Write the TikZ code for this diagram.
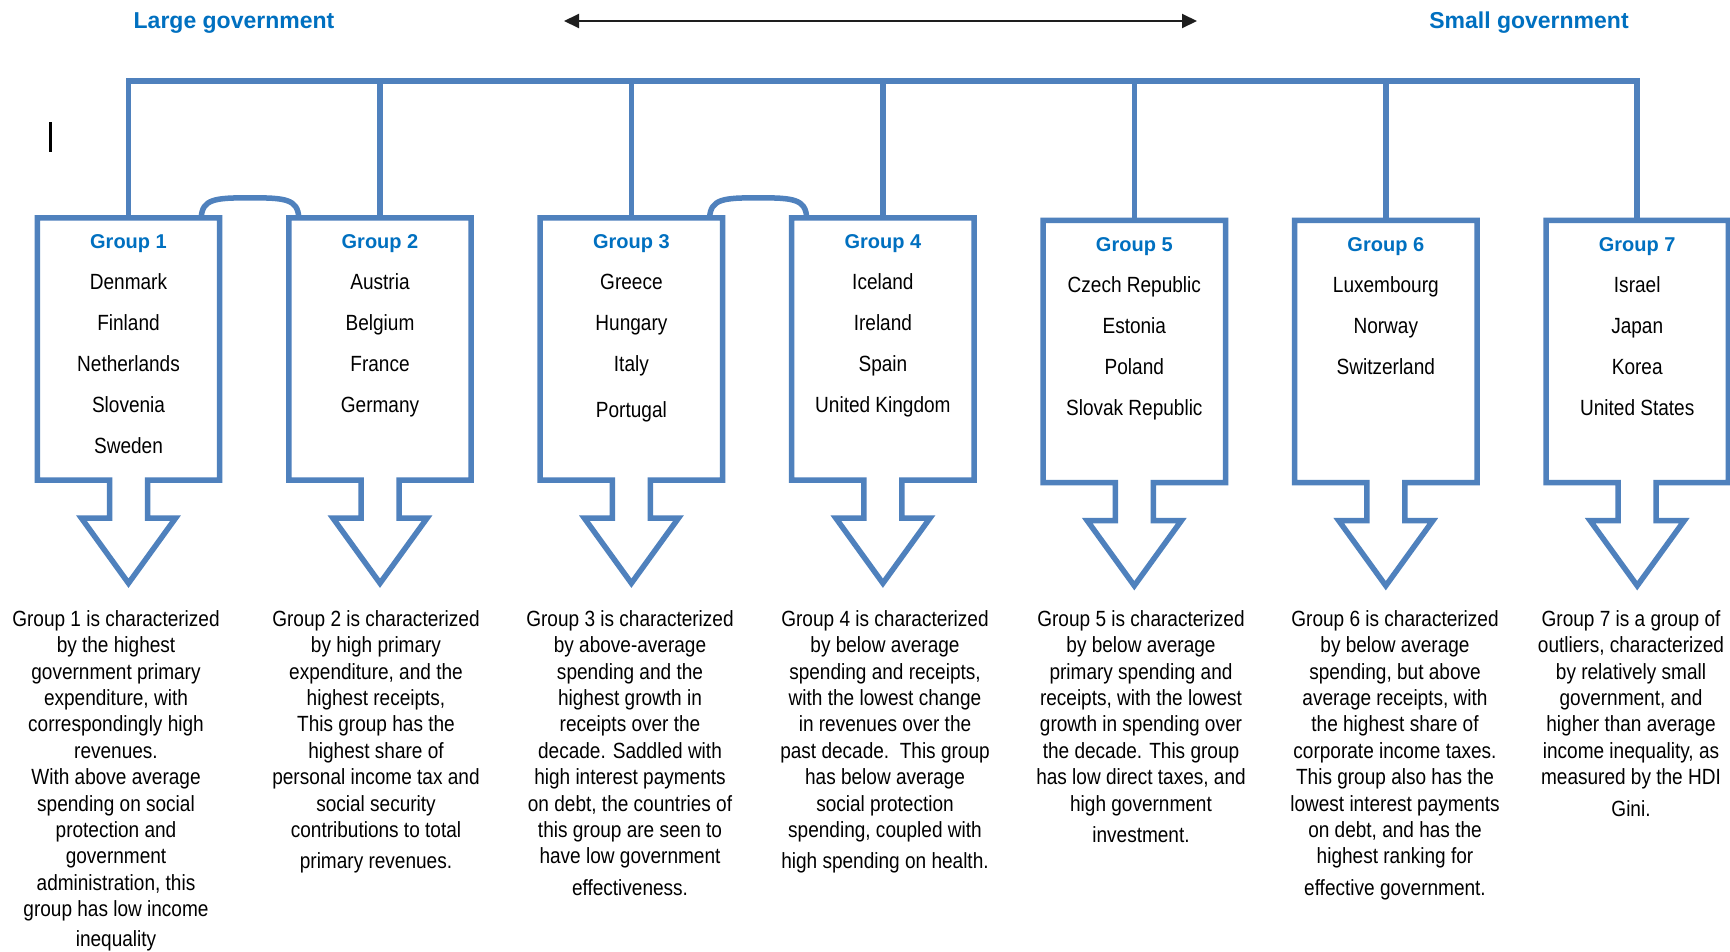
\documentclass[tikz,border=0pt]{standalone}
\usepackage{fontspec}
\setmainfont{Liberation Sans}
\newfontfamily\narrowsans[FakeStretch=0.865]{Liberation Sans}
\usetikzlibrary{calc,arrows.meta}

\definecolor{frameblue}{HTML}{4F81BD}
\definecolor{headblue}{HTML}{0070C0}
\definecolor{axisgray}{HTML}{1E1E1E}

\tikzset{
  grpline/.style={draw=frameblue, line width=5.5pt, line join=miter},
  grpbox/.style={minimum width=182pt, minimum height=262pt, inner sep=0pt, draw=none},
  grptitle/.style={anchor=base, inner sep=0pt, text=headblue,
    font=\bfseries\fontsize{20}{24}\selectfont},
  grplist/.style={anchor=north, inner sep=0pt, align=center,
    font=\narrowsans\fontsize{22}{41}\selectfont},
  grpnote/.style={anchor=north, inner sep=0pt, align=center,
    font=\narrowsans\fontsize{22}{26.4}\selectfont},
  govlabel/.style={inner sep=0pt, text=headblue,
    font=\bfseries\fontsize{23}{27}\selectfont},
  axisline/.style={draw=axisgray, line width=2pt,
    {Triangle[length=15pt,width=14pt]}-{Triangle[length=15pt,width=14pt]}},
}

% box outline with its downward block arrow
\newcommand\grpoutline[1]{%
  \draw[grpline] (#1.north west) -- (#1.north east) -- (#1.south east)
    -- ($(#1.south)+(19,0)$) -- ($(#1.south)+(19,38)$) -- ($(#1.south)+(47,38)$)
    -- ($(#1.south)+(0,103)$) -- ($(#1.south)+(-47,38)$) -- ($(#1.south)+(-19,38)$)
    -- ($(#1.south)+(-19,0)$) -- (#1.south west) -- cycle;}

% rounded hump joining the tops of two neighbouring boxes
% #1,#2: boxes; #3: start offset from #1's right corner; #4: end offset from #2's left corner
\newcommand\grpbridge[4]{%
  \path ($(#1.north east)+(#3,0)$) coordinate (#1-bs)
        ($(#2.north west)+(#4,0)$) coordinate (#1-be);
  \draw[grpline] (#1-bs) .. controls ($(#1-bs)+(1,-19)$) and ($(#1-bs)+(14,-20)$)
    .. ($(#1-bs)!0.5!(#1-be)+(0,-20)$)
    .. controls ($(#1-be)+(-14,-20)$) and ($(#1-be)+(-1,-19)$) .. (#1-be);}

\begin{document}
\begin{tikzpicture}[x=1pt,y=-1pt]
\fill[white] (0,0) rectangle (1730,951);
\useasboundingbox (0,0) rectangle (1730,951);

% heading axis
\node[govlabel] (large) at (234,23) {Large government};
\node[govlabel] (small) at (1529,23) {Small government};
\coordinate (axL) at (564,21);
\coordinate (axR) at (1197,21);
\draw[axisline] (axL) -- (axR);

% stray caret mark
\coordinate (caretT) at (50,122);
\coordinate (caretB) at (50,152);
\draw[line width=3pt] (caretT) -- (caretB);

% group boxes
\node[grpbox] (b1) at (128.5,349) {};
\node[grpbox] (b2) at (380,349) {};
\node[grpbox] (b3) at (631.4,349) {};
\node[grpbox] (b4) at (882.9,349) {};
\node[grpbox] (b5) at (1134.3,351.5) {};
\node[grpbox] (b6) at (1385.8,351.5) {};
\node[grpbox] (b7) at (1637.2,351.5) {};

\foreach \k in {1,...,7} {\grpoutline{b\k}}

% top bar with drops into each box
\coordinate (barlevel) at (0,81);
\draw[grpline] (b1.north) |- (b7.north |- barlevel) -- (b7.north);
\foreach \k in {2,...,6} {\draw[grpline] (b\k.north) -- (b\k.north |- barlevel);}

\grpbridge{b1}{b2}{-18.5}{10}
\grpbridge{b3}{b4}{-13}{15}

% titles
\foreach \k in {1,...,7} {\node[grptitle] (t\k) at ($(b\k.north)+(0,31)$) {Group \k};}

% member countries
\tikzset{grplist/.append style={yshift=-2.2pt}}
\node[grplist] (c1) at ($(b1.north)+(0,52.5)$) {\rule{0pt}{17pt}Denmark\\Finland\\Netherlands\\Slovenia\\Sweden};
\node[grplist] (c2) at ($(b2.north)+(0,52.5)$) {\rule{0pt}{17pt}Austria\\Belgium\\France\\Germany};
\node[grplist] (c3) at ($(b3.north)+(0,52.5)$) {\rule{0pt}{17pt}Greece\\Hungary\\Italy\\[5pt]Portugal};
\node[grplist] (c4) at ($(b4.north)+(0,52.5)$) {\rule{0pt}{17pt}Iceland\\Ireland\\Spain\\United Kingdom};
\node[grplist] (c5) at ($(b5.north)+(0,52.5)$) {\rule{0pt}{17pt}Czech Republic\\Estonia\\Poland\\Slovak Republic};
\node[grplist] (c6) at ($(b6.north)+(0,52.5)$) {\rule{0pt}{17pt}Luxembourg\\Norway\\Switzerland};
\node[grplist] (c7) at ($(b7.north)+(0,52.5)$) {\rule{0pt}{17pt}Israel\\Japan\\Korea\\United States};

% descriptions
\node[grpnote] (d1) at (116,609) {\rule{0pt}{17pt}Group 1 is characterized\\by the highest\\government primary\\expenditure, with\\correspondingly high\\revenues.\\With above average\\spending on social\\protection and\\government\\administration, this\\group has low income\\[3pt]inequality};
\node[grpnote] (d2) at (376,609) {\rule{0pt}{17pt}Group 2 is characterized\\by high primary\\expenditure, and the\\highest receipts,\\This group has the\\highest share of\\personal income tax and\\social security\\contributions to total\\[5pt]primary revenues.};
\node[grpnote] (d3) at (630,609) {\rule{0pt}{17pt}Group 3 is characterized\\by above-average\\spending and the\\highest growth in\\receipts over the\\decade. Saddled with\\high interest payments\\on debt, the countries of\\this group are seen to\\have low government\\[5pt]effectiveness.};
\node[grpnote] (d4) at (885,609) {\rule{0pt}{17pt}Group 4 is characterized\\by below average\\spending and receipts,\\with the lowest change\\in revenues over the\\past decade.\ \ This group\\has below average\\social protection\\spending, coupled with\\[5pt]high spending on health.};
\node[grpnote] (d5) at (1141,609) {\rule{0pt}{17pt}Group 5 is characterized\\by below average\\primary spending and\\receipts, with the lowest\\growth in spending over\\the decade. This group\\has low direct taxes, and\\high government\\[5pt]investment.};
\node[grpnote] (d6) at (1395,609) {\rule{0pt}{17pt}Group 6 is characterized\\by below average\\spending, but above\\average receipts, with\\the highest share of\\corporate income taxes.\\This group also has the\\lowest interest payments\\on debt, and has the\\highest ranking for\\[5pt]effective government.};
\node[grpnote] (d7) at (1631,609) {\rule{0pt}{17pt}Group 7 is a group of\\outliers, characterized\\by relatively small\\government, and\\higher than average\\income inequality, as\\measured by the HDI\\[5pt]Gini.};
\end{tikzpicture}
\end{document}
